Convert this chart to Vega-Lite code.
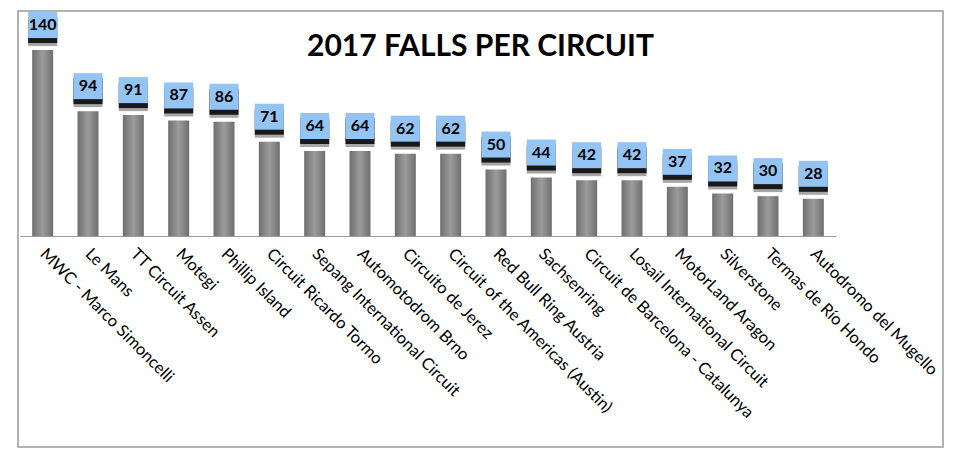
{
  "$schema": "https://vega.github.io/schema/vega-lite/v6.json",
  "width": 925,
  "height": 436,
  "autosize": "none",
  "padding": {"left": 18, "top": 11, "right": 17, "bottom": 25},
  "background": "white",
  "title": {
    "text": "2017 FALLS PER CIRCUIT",
    "font": "Lato",
    "fontSize": 30,
    "fontWeight": "bold",
    "color": "black",
    "anchor": "middle",
    "frame": "group",
    "offset": -51
  },
  "data": {
    "values": [
      {"circuit": "MWC - Marco Simoncelli", "falls": 140},
      {"circuit": "Le Mans", "falls": 94},
      {"circuit": "TT Circuit Assen", "falls": 91},
      {"circuit": "Motegi", "falls": 87},
      {"circuit": "Phillip Island", "falls": 86},
      {"circuit": "Circuit Ricardo Tormo", "falls": 71},
      {"circuit": "Sepang International Circuit", "falls": 64},
      {"circuit": "Automotodrom Brno", "falls": 64},
      {"circuit": "Circuito de Jerez", "falls": 62},
      {"circuit": "Circuit of the Americas (Austin)", "falls": 62},
      {"circuit": "Red Bull Ring Austria", "falls": 50},
      {"circuit": "Sachsenring", "falls": 44},
      {"circuit": "Circuit de Barcelona - Catalunya", "falls": 42},
      {"circuit": "Losail International Circuit", "falls": 42},
      {"circuit": "MotorLand Aragon", "falls": 37},
      {"circuit": "Silverstone", "falls": 32},
      {"circuit": "Termas de Río Hondo", "falls": 30},
      {"circuit": "Autodromo del Mugello", "falls": 28}
    ]
  },
  "encoding": {
    "x": {
      "field": "circuit",
      "type": "nominal",
      "sort": null,
      "scale": {"range": [2, 818], "paddingInner": 0.5, "paddingOuter": 0.25},
      "axis": {
        "title": null,
        "offset": -211,
        "labelAngle": 45,
        "labelAlign": "left",
        "labelBaseline": "middle",
        "labelPadding": 15,
        "labelFont": "Lato",
        "labelFontSize": 16.5,
        "labelColor": "black",
        "labelLimit": 400,
        "ticks": false,
        "domainColor": "#9a9a9a",
        "domainWidth": 1.2
      }
    },
    "y": {
      "field": "falls",
      "type": "quantitative",
      "scale": {"domain": [-158.9, 169.4], "nice": false, "zero": false},
      "axis": null
    }
  },
  "layer": [
    {
      "mark": {
        "type": "bar",
        "width": 21,
        "color": {
          "x1": 0, "y1": 0, "x2": 1, "y2": 0,
          "gradient": "linear",
          "stops": [
            {"offset": 0, "color": "#6f6f6f"},
            {"offset": 0.5, "color": "#9c9c9c"},
            {"offset": 1, "color": "#6f6f6f"}
          ]
        }
      },
      "encoding": {"y2": {"datum": 0}}
    },
    {
      "mark": {
        "type": "point",
        "shape": "M-1.12,-1H1.12V1H-1.12Z",
        "size": 676,
        "filled": true,
        "color": "black",
        "opacity": 0.35,
        "yOffset": -17
      }
    },
    {
      "mark": {
        "type": "point",
        "shape": "M-1.12,-1H1.12V1H-1.12Z",
        "size": 676,
        "filled": true,
        "color": "black",
        "opacity": 0.85,
        "yOffset": -20
      }
    },
    {
      "mark": {
        "type": "point",
        "shape": "M-1.12,-1H1.12V1H-1.12Z",
        "size": 676,
        "filled": true,
        "color": "#94c4f4",
        "opacity": 1,
        "yOffset": -25
      }
    },
    {
      "mark": {
        "type": "text",
        "font": "Lato",
        "fontSize": 16,
        "fontWeight": "bold",
        "color": "black",
        "yOffset": -25,
        "baseline": "middle"
      },
      "encoding": {"text": {"field": "falls", "type": "quantitative"}}
    }
  ],
  "config": {
    "view": {"stroke": "#9a9a9a", "strokeWidth": 1.5}
  }
}
